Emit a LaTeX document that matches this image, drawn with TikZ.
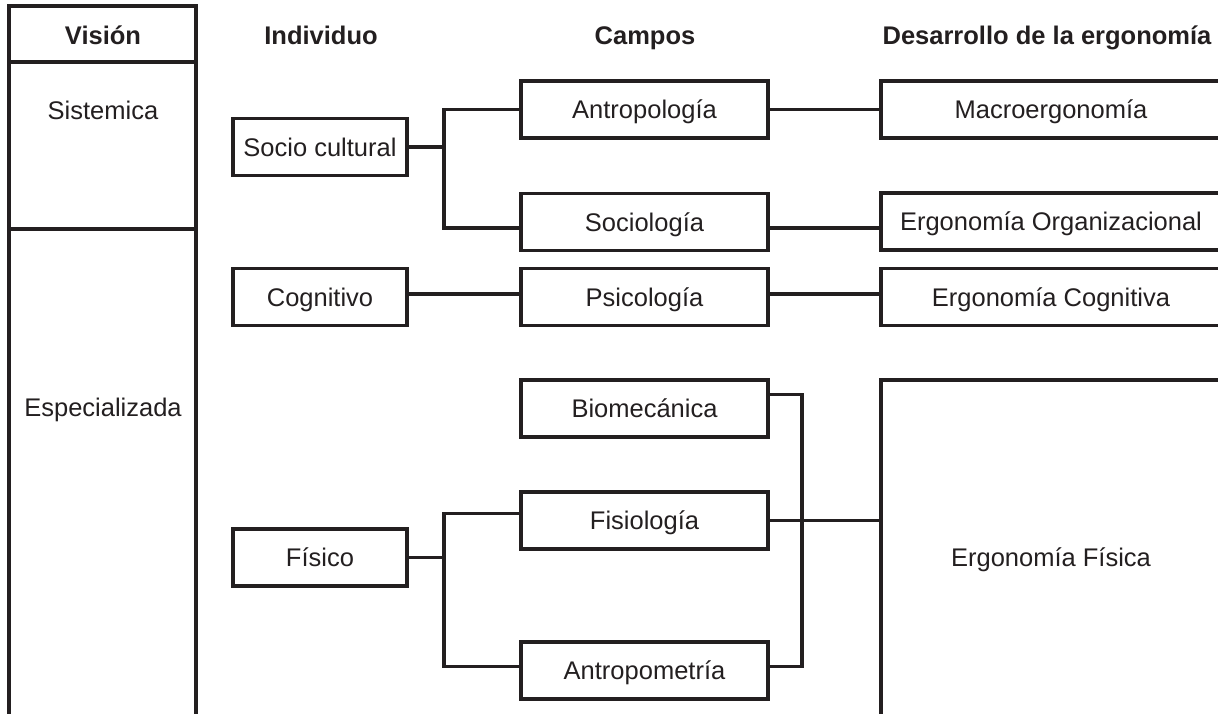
\documentclass[tikz,border=0pt]{standalone}
\usepackage{fontspec}
\setmainfont{Liberation Sans}
\usetikzlibrary{calc}
\definecolor{ink}{HTML}{231F20}
\begin{document}
\begin{tikzpicture}[x=1pt,y=-1pt,
  txt/.style={font=\fontsize{25.5}{30}\selectfont, text=ink, inner sep=0pt,
              text height=18pt, text depth=0pt},
  head/.style={txt, font=\fontsize{25.5}{30}\selectfont\bfseries},
  box/.style={txt, draw=ink, line width=3.2pt, minimum height=57pt},
  indbox/.style={box, minimum width=174pt},
  campbox/.style={box, minimum width=247pt},
  devbox/.style={box, minimum width=340pt},
  wire/.style={draw=ink, line width=3.2pt, line join=miter}]
\useasboundingbox (0,0) rectangle (1218,713);
\clip (0,0) rectangle (1218,713);

% Vision column
\draw[wire] (9,740) -- (9,6) -- (196,6) -- (196,740);
\draw[wire] (9,62) -- (196,62);
\draw[wire] (9,229) -- (196,229);
\node[head] (hvis) at (103,35) {Visión};
\node[txt] (sist) at (103,110) {Sistemica};
\node[txt] (espec) at (103,407) {Especializada};

% Column headings
\node[head] (hind) at (321,35) {Individuo};
\node[head] (hcamp) at (645,35) {Campos};
\node[head] (hdes) at (1047,35) {Desarrollo de la ergonomía};

% Individuo
\node[indbox] (soccul) at (320,147) {Socio cultural};
\node[indbox] (cogn) at (320,297) {Cognitivo};
\node[indbox] (fisico) at (320,557.5) {Físico};

% Campos
\node[campbox] (antrop) at (644.5,109.5) {Antropología};
\node[campbox] (socio) at (644.5,222) {Sociología};
\node[campbox] (psico) at (644.5,297) {Psicología};
\node[campbox] (biomec) at (644.5,408.5) {Biomecánica};
\node[campbox] (fisiol) at (644.5,520.5) {Fisiología};
\node[campbox] (antropom) at (644.5,670.5) {Antropometría};

% Desarrollo de la ergonomia
\node[devbox] (macro) at (1051,109.5) {Macroergonomía};
\node[devbox] (eorg) at (1051,221.5) {Ergonomía Organizacional};
\node[devbox] (ecog) at (1051,297) {Ergonomía Cognitiva};
\node[devbox, minimum height=354pt] (efis) at (1051,557) {Ergonomía Física};

% Socio cultural branch
\coordinate (b1) at (444,147);
\draw[wire] (soccul.east) -- (b1);
\draw[wire] (antrop.west) -| (b1) |- ([yshift=-6pt]socio.west);
\draw[wire] (antrop.east) -- (macro.west);
\draw[wire] ([yshift=-6pt]socio.east) -- ([yshift=-6pt]socio.east -| eorg.west);

% Cognitivo branch
\draw[wire] ([yshift=3pt]cogn.east) -- ([yshift=3pt]psico.west);
\draw[wire] ([yshift=3pt]psico.east) -- ([yshift=3pt]psico.east -| ecog.west);

% Fisico branch
\coordinate (b2) at (444,557.5);
\draw[wire] (fisico.east) -- (b2);
\draw[wire] ([yshift=7pt]fisiol.west) -| (b2) |- ([yshift=4pt]antropom.west);
\coordinate (b3) at (802,520.5);
\draw[wire] ([yshift=14pt]biomec.east) -| (b3) |- ([yshift=4pt]antropom.east);
\draw[wire] (fisiol.east) -- (fisiol.east -| efis.west);
\end{tikzpicture}
\end{document}
